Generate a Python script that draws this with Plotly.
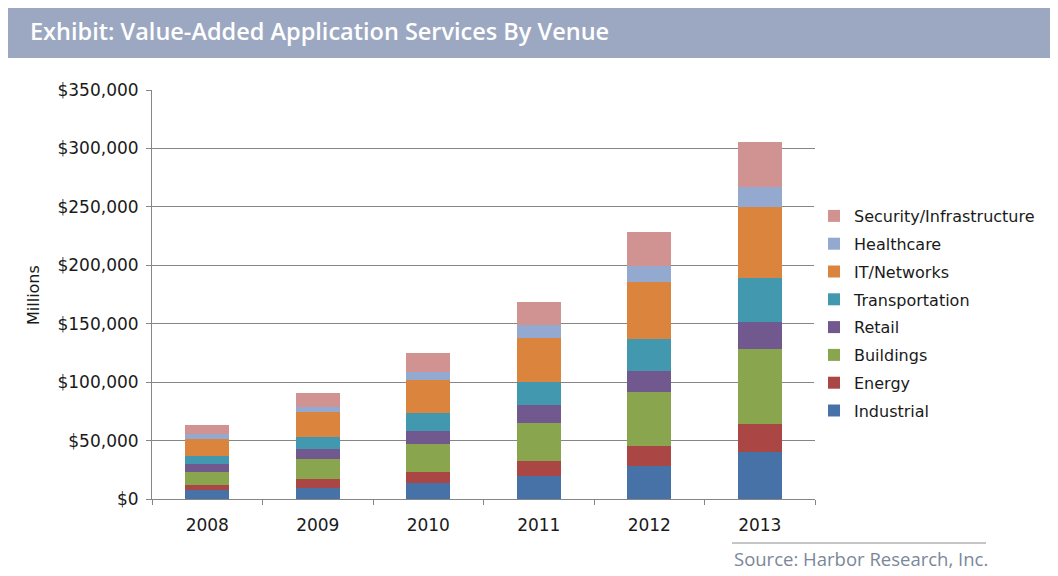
import plotly.graph_objects as go

years = ["2008", "2009", "2010", "2011", "2012", "2013"]
industrial = [7400, 9700, 13400, 19700, 28500, 40500]
energy = [4300, 7200, 10000, 12800, 17100, 23700]
buildings = [11700, 17100, 23700, 32800, 45700, 63900]
retail = [6900, 8500, 11100, 15100, 18200, 23100]
transportation = [6600, 10800, 15100, 20000, 27400, 37700]
it_networks = [14500, 20900, 28500, 37100, 49100, 60700]
healthcare = [4600, 4800, 7100, 11400, 13400, 17700]
security = [7700, 12000, 15800, 19900, 28800, 38500]

series = [
    ("Industrial", industrial, "#4672A8"),
    ("Energy", energy, "#AA4644"),
    ("Buildings", buildings, "#89A54E"),
    ("Retail", retail, "#71598F"),
    ("Transportation", transportation, "#4298AF"),
    ("IT/Networks", it_networks, "#DB843D"),
    ("Healthcare", healthcare, "#93A9CF"),
    ("Security/Infrastructure", security, "#D19392"),
]

y_ticks = [0, 50000, 100000, 150000, 200000, 250000, 300000, 350000]
y_tick_text = ["$0", "$50,000", "$100,000", "$150,000", "$200,000",
               "$250,000", "$300,000", "$350,000"]

fig = go.Figure()
n = len(series)
for i, (name, vals, col) in enumerate(series):
    fig.add_trace(go.Bar(x=years, y=vals, name=name, marker_color=col,
                         marker_line_width=0, legendgroup=name,
                         legendrank=n - i))

# page has an 8px body margin; work in window coordinates and shift
OFF = 8
W, H = 1058 - OFF, 576 - OFF
L, T = 152 - OFF, 90 - OFF
PR, PB = 815 - OFF, 499 - OFF
R, B = W - PR, H - PB
pw, ph = PR - L, PB - T

def px_x(p):
    return (p - OFF - L) / pw

def px_y(p):
    return (PB - (p - OFF)) / ph

TXT = "#1a1a1a"
fig.update_layout(
    width=W, height=H,
    margin=dict(l=L, r=R, t=T, b=B),
    paper_bgcolor="white", plot_bgcolor="white",
    barmode="stack", bargap=0.6,
    showlegend=True,
    legend=dict(traceorder="grouped", x=px_x(814), y=px_y(199),
                xanchor="left", yanchor="top",
                font=dict(family="DejaVu Sans", size=16, color=TXT),
                itemwidth=30, tracegroupgap=4),
    xaxis=dict(type="category", showline=True, linecolor="#868686",
               ticks="outside", tickson="boundaries", ticklen=5,
               tickcolor="#868686", showgrid=False, ticklabelstandoff=11,
               tickfont=dict(family="DejaVu Sans", size=17, color=TXT)),
    yaxis=dict(range=[0, 350000], tickvals=y_ticks, ticktext=y_tick_text,
               showline=True, linecolor="#868686", ticks="outside", ticklen=5,
               tickcolor="#868686", showgrid=True, gridcolor="#868686",
               gridwidth=1, zeroline=False, ticklabelstandoff=4,
               tickfont=dict(family="DejaVu Sans", size=17, color=TXT)),
    font=dict(family="DejaVu Sans"),
)

# title banner
fig.add_shape(type="rect", xref="paper", yref="paper",
              x0=px_x(0), x1=px_x(1060), y0=px_y(58), y1=px_y(4),
              fillcolor="#9CA8C2", line_width=0, layer="below")
fig.add_annotation(text="Exhibit: Value-Added Application Services By Venue",
                   xref="paper", yref="paper", x=px_x(28), y=px_y(31),
                   xanchor="left", yanchor="middle", showarrow=False,
                   font=dict(family="Open Sans", size=23.5, color="white", weight=600))

fig.add_annotation(text="Millions", xref="paper", yref="paper",
                   x=px_x(33), y=px_y(295), textangle=-90,
                   xanchor="center", yanchor="middle", showarrow=False,
                   font=dict(family="DejaVu Sans", size=16, color=TXT))

# source
fig.add_shape(type="line", xref="paper", yref="paper",
              x0=px_x(732), x1=px_x(986), y0=px_y(543), y1=px_y(543),
              line=dict(color="#8c8c8c", width=1))
fig.add_annotation(text="Source: Harbor Research, Inc.", xref="paper", yref="paper",
                   x=px_x(732), y=px_y(558), xanchor="left", yanchor="middle",
                   showarrow=False,
                   font=dict(family="Open Sans", size=18.5, color="#7B8799"))

fig.write_html("out.html")
